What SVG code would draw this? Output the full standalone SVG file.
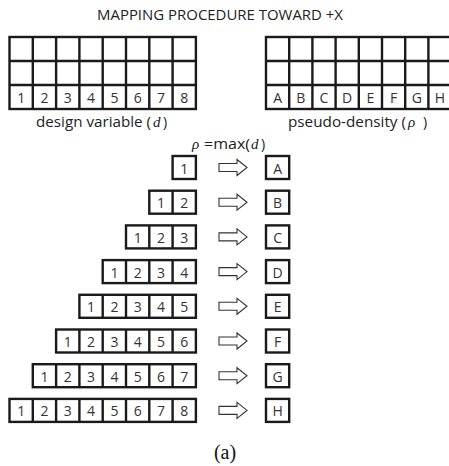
<svg xmlns="http://www.w3.org/2000/svg" width="449" height="466" viewBox="0 0 449 466">
<style>
.g{fill:none;stroke:#1a1a1a;stroke-width:2.4}
.t{font-family:"Open Sans","Noto Sans",sans-serif;font-size:14px;fill:#333;text-anchor:middle}
.l{font-family:"Open Sans","Noto Sans",sans-serif;font-size:14px;fill:#222}
.i{font-family:"Liberation Serif",serif;font-style:italic;font-size:15px;fill:#222}
.ar{fill:#fff;stroke:#333;stroke-width:1.1}
</style>
<defs>
<path id="arr" d="M219,-4 H237 V-8 L247,0 L237,8 V4 H219 Z"/>
</defs>
<rect width="449" height="466" fill="#fff"/>
<text class="l" x="97" y="20" font-size="12" textLength="246" lengthAdjust="spacingAndGlyphs">MAPPING PROCEDURE TOWARD +X</text>

<g id="design-grid">
<rect class="g" x="9.5" y="37" width="186.4" height="72"/>
<path class="g" d="M9.5,61H195.9M9.5,85H195.9M32.8,37V109M56.1,37V109M79.4,37V109M102.7,37V109M126,37V109M149.3,37V109M172.6,37V109"/>
<g class="t">
<text x="21.2" y="103">1</text><text x="44.5" y="103">2</text><text x="67.8" y="103">3</text><text x="91.1" y="103">4</text><text x="114.4" y="103">5</text><text x="137.7" y="103">6</text><text x="161" y="103">7</text><text x="184.3" y="103">8</text>
</g>
<text class="l" x="36" y="127" textLength="115" lengthAdjust="spacingAndGlyphs">design variable (</text>
<text class="i" x="153" y="127">d</text>
<text class="l" x="163" y="127">)</text>
</g>

<g id="density-grid">
<rect class="g" x="266" y="37" width="185.6" height="72"/>
<path class="g" d="M266,61H451.6M266,85H451.6M289.2,37V109M312.4,37V109M335.6,37V109M358.8,37V109M382,37V109M405.2,37V109M428.4,37V109"/>
<g class="t">
<text x="277.6" y="103">A</text><text x="300.8" y="103">B</text><text x="324" y="103">C</text><text x="347.2" y="103">D</text><text x="370.4" y="103">E</text><text x="393.6" y="103">F</text><text x="416.8" y="103">G</text><text x="440" y="103">H</text>
</g>
<text class="l" x="288" y="127" textLength="118" lengthAdjust="spacingAndGlyphs">pseudo-density (</text>
<text class="i" x="408" y="127">ρ</text>
<text class="l" x="423" y="127">)</text>
</g>

<g id="formula">
<text class="i" x="192" y="149">ρ</text>
<text class="l" x="204" y="149" textLength="46" lengthAdjust="spacingAndGlyphs">=max(</text>
<text class="i" x="251" y="149">d</text>
<text class="l" x="261" y="149">)</text>
</g>

<g id="row1"><rect class="g" x="172.6" y="156" width="23.3" height="23"/><g class="t"><text x="184.3" y="173.5">1</text></g></g>
<g id="row2"><rect class="g" x="149.3" y="190.7" width="46.6" height="23"/><path class="g" d="M172.6,190.7v23"/><g class="t"><text x="161" y="208.2">1</text><text x="184.3" y="208.2">2</text></g></g>
<g id="row3"><rect class="g" x="126" y="225.4" width="69.9" height="23"/><path class="g" d="M149.3,225.4v23M172.6,225.4v23"/><g class="t"><text x="137.7" y="242.9">1</text><text x="161" y="242.9">2</text><text x="184.3" y="242.9">3</text></g></g>
<g id="row4"><rect class="g" x="102.7" y="260.1" width="93.2" height="23"/><path class="g" d="M126,260.1v23M149.3,260.1v23M172.6,260.1v23"/><g class="t"><text x="114.4" y="277.6">1</text><text x="137.7" y="277.6">2</text><text x="161" y="277.6">3</text><text x="184.3" y="277.6">4</text></g></g>
<g id="row5"><rect class="g" x="79.4" y="294.8" width="116.5" height="23"/><path class="g" d="M102.7,294.8v23M126,294.8v23M149.3,294.8v23M172.6,294.8v23"/><g class="t"><text x="91.1" y="312.3">1</text><text x="114.4" y="312.3">2</text><text x="137.7" y="312.3">3</text><text x="161" y="312.3">4</text><text x="184.3" y="312.3">5</text></g></g>
<g id="row6"><rect class="g" x="56.1" y="329.5" width="139.8" height="23"/><path class="g" d="M79.4,329.5v23M102.7,329.5v23M126,329.5v23M149.3,329.5v23M172.6,329.5v23"/><g class="t"><text x="67.8" y="347">1</text><text x="91.1" y="347">2</text><text x="114.4" y="347">3</text><text x="137.7" y="347">4</text><text x="161" y="347">5</text><text x="184.3" y="347">6</text></g></g>
<g id="row7"><rect class="g" x="32.8" y="364.2" width="163.1" height="23"/><path class="g" d="M56.1,364.2v23M79.4,364.2v23M102.7,364.2v23M126,364.2v23M149.3,364.2v23M172.6,364.2v23"/><g class="t"><text x="44.5" y="381.7">1</text><text x="67.8" y="381.7">2</text><text x="91.1" y="381.7">3</text><text x="114.4" y="381.7">4</text><text x="137.7" y="381.7">5</text><text x="161" y="381.7">6</text><text x="184.3" y="381.7">7</text></g></g>
<g id="row8"><rect class="g" x="9.5" y="398.9" width="186.4" height="23"/><path class="g" d="M32.8,398.9v23M56.1,398.9v23M79.4,398.9v23M102.7,398.9v23M126,398.9v23M149.3,398.9v23M172.6,398.9v23"/><g class="t"><text x="21.2" y="416.4">1</text><text x="44.5" y="416.4">2</text><text x="67.8" y="416.4">3</text><text x="91.1" y="416.4">4</text><text x="114.4" y="416.4">5</text><text x="137.7" y="416.4">6</text><text x="161" y="416.4">7</text><text x="184.3" y="416.4">8</text></g></g>

<g id="rho-A"><rect class="g" x="266" y="156" width="23.2" height="23"/><text class="t" x="277.6" y="173.5">A</text></g>
<g id="rho-B"><rect class="g" x="266" y="190.7" width="23.2" height="23"/><text class="t" x="277.6" y="208.2">B</text></g>
<g id="rho-C"><rect class="g" x="266" y="225.4" width="23.2" height="23"/><text class="t" x="277.6" y="242.9">C</text></g>
<g id="rho-D"><rect class="g" x="266" y="260.1" width="23.2" height="23"/><text class="t" x="277.6" y="277.6">D</text></g>
<g id="rho-E"><rect class="g" x="266" y="294.8" width="23.2" height="23"/><text class="t" x="277.6" y="312.3">E</text></g>
<g id="rho-F"><rect class="g" x="266" y="329.5" width="23.2" height="23"/><text class="t" x="277.6" y="347">F</text></g>
<g id="rho-G"><rect class="g" x="266" y="364.2" width="23.2" height="23"/><text class="t" x="277.6" y="381.7">G</text></g>
<g id="rho-H"><rect class="g" x="266" y="398.9" width="23.2" height="23"/><text class="t" x="277.6" y="416.4">H</text></g>

<g id="connectors" class="ar">
<use href="#arr" y="167.5"/>
<use href="#arr" y="202.2"/>
<use href="#arr" y="236.9"/>
<use href="#arr" y="271.6"/>
<use href="#arr" y="306.3"/>
<use href="#arr" y="341"/>
<use href="#arr" y="375.7"/>
<use href="#arr" y="410.4"/>
</g>

<text x="225" y="459" font-family="Liberation Serif,serif" font-size="20" fill="#111" text-anchor="middle">(a)</text>
</svg>
